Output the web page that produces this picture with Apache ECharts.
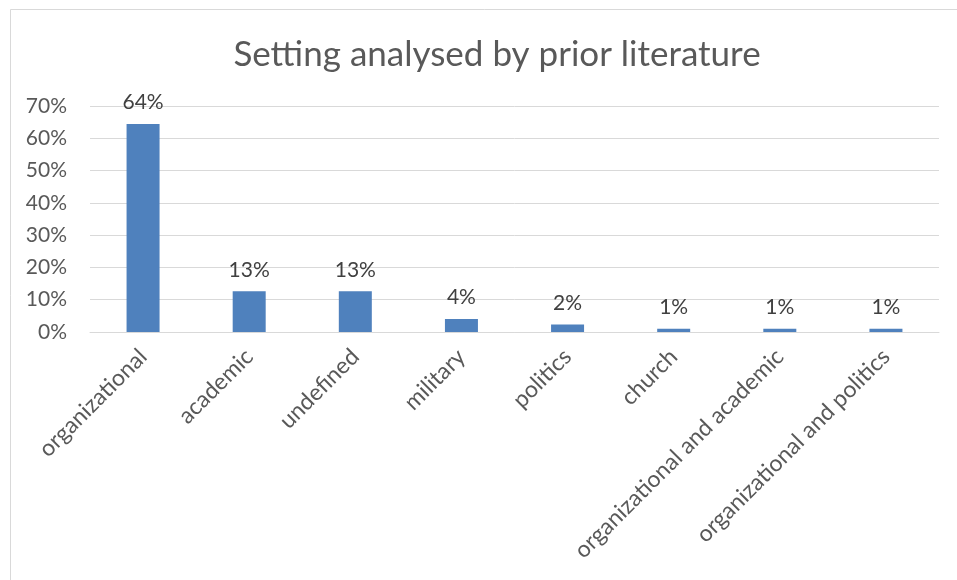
<!DOCTYPE html>
<html>
<head>
<meta charset="utf-8">
<script src="https://cdn.jsdelivr.net/npm/echarts@6/dist/echarts.min.js"></script>
<style>html,body{margin:0;padding:0;background:#fff}#c{width:957px;height:580px}</style>
</head>
<body>
<div id="c"></div>
<script>
var categories = ["organizational","academic","undefined","military","politics","church","organizational and academic","organizational and politics"];
var values = [64.4, 12.6, 12.6, 4.0, 2.3, 1.0, 1.0, 1.0];
var titleText = "Setting analysed by prior literature";

var chart = echarts.init(document.getElementById('c'));
chart.setOption({
  animation: false,
  backgroundColor: '#ffffff',
  graphic: [{
    type: 'rect', left: 8, top: 7,
    shape: { width: 1000, height: 700 },
    style: { fill: 'none', stroke: '#d9d9d9', lineWidth: 1 },
    silent: true
  }],
  title: {
    text: titleText, left: 492, top: 32, textAlign: 'center',
    textStyle: { fontFamily: 'Lato', fontSize: 35, fontWeight: 'normal', color: '#595959' }
  },
  grid: { left: 90, right: 18, top: 106, bottom: 248, containLabel: false },
  xAxis: {
    type: 'category', data: categories,
    axisLine: { lineStyle: { color: '#d9d9d9', width: 1 } },
    axisTick: { show: false },
    axisLabel: { rotate: 45, interval: 0, margin: 21, fontFamily: 'Lato', fontSize: 23, color: '#595959' }
  },
  yAxis: {
    type: 'value', min: 0, max: 70, interval: 10,
    axisLine: { show: false }, axisTick: { show: false },
    splitLine: { lineStyle: { color: '#d9d9d9', width: 1 } },
    axisLabel: { formatter: '{value}%', margin: 23, fontFamily: 'Lato', fontSize: 21, color: '#595959' }
  },
  series: [{
    type: 'bar', data: values, barWidth: 33,
    itemStyle: { color: '#4F81BD' },
    label: {
      show: true, position: 'top', distance: 11,
      formatter: function(p){ return Math.round(p.value) + '%'; },
      fontFamily: 'Lato', fontSize: 21, color: '#404040'
    }
  }]
});
</script>
</body>
</html>
